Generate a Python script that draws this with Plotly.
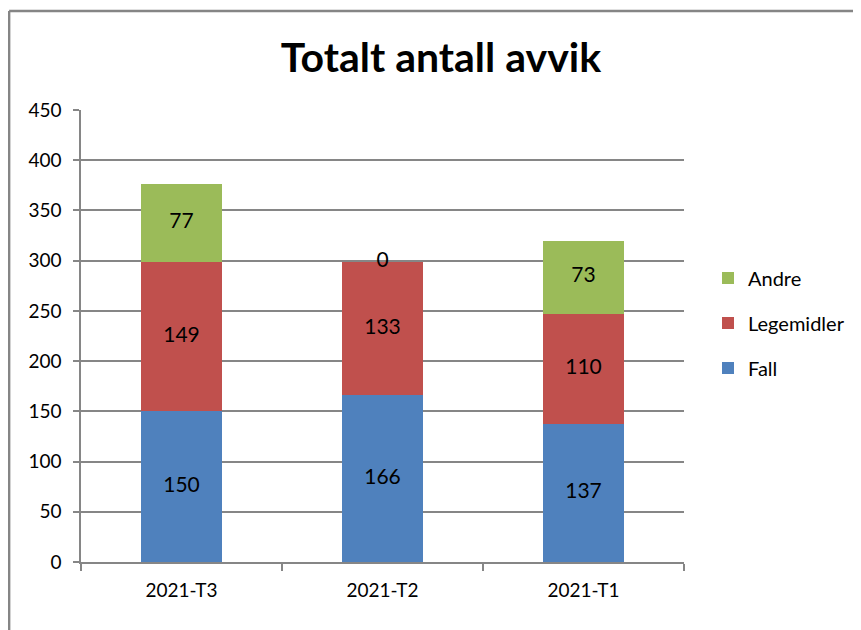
import plotly.graph_objects as go

categories = ["2021-T3", "2021-T2", "2021-T1"]
fall = [150, 166, 137]
legemidler = [149, 133, 110]
andre = [77, 0, 73]
y_ticks = [0, 50, 100, 150, 200, 250, 300, 350, 400, 450]

FONT = "Lato, Calibri, Carlito, sans-serif"
series = [
    ("Fall", fall, "#4F81BD"),
    ("Legemidler", legemidler, "#C0504D"),
    ("Andre", andre, "#9BBB59"),
]

fig = go.Figure()
for i, (name, vals, col) in enumerate(series):
    fig.add_trace(go.Bar(
        x=categories, y=vals, name=name, marker_color=col,
        marker_line_width=0, legendgroup=name, legendrank=1000 - i,
    ))

# data labels at segment centres
base = [0] * len(categories)
lx, ly, lt = [], [], []
for name, vals, col in series:
    for j, v in enumerate(vals):
        lx.append(categories[j])
        ly.append(base[j] + v / 2)
        lt.append(str(v))
        base[j] += v
fig.add_trace(go.Scatter(
    x=lx, y=ly, text=lt, mode="text", showlegend=False,
    textfont=dict(size=21, color="#000000", family=FONT),
    hoverinfo="skip",
))

W, H = 853, 622
L, T, PW, PH = 73, 102, 604, 452
fig.update_layout(
    width=W, height=H,
    barmode="stack", bargap=0.6,
    paper_bgcolor="white", plot_bgcolor="white",
    margin=dict(l=L, r=W - L - PW, t=T, b=H - T - PH, pad=0),
    font=dict(family=FONT, size=18, color="#000000"),
    title=dict(text="<b>Totalt antall avvik</b>", x=433 / W, xref="container", xanchor="center",
               y=1 - 50 / H, yref="container", yanchor="middle",
               font=dict(size=41, family=FONT, color="#000000")),
    legend=dict(traceorder="grouped", x=(700 - L) / PW, xanchor="left",
                y=(T + PH - 315) / PH, yanchor="middle", tracegroupgap=16,
                font=dict(size=20, family=FONT), itemwidth=30,
                bgcolor="rgba(0,0,0,0)"),
    showlegend=True,
)
fig.update_yaxes(
    range=[0, 450], tickvals=y_ticks, showgrid=True, gridcolor="#868686", gridwidth=1.5,
    showline=True, linecolor="#868686", linewidth=1.5,
    ticks="outside", ticklen=6, tickcolor="#868686", tickwidth=1.5,
    ticklabelstandoff=8, zeroline=False,
    tickfont=dict(size=19, family=FONT),
)
fig.update_xaxes(
    showline=True, linecolor="#868686", linewidth=1.5,
    ticks="outside", tickson="boundaries", ticklen=7, tickcolor="#868686", tickwidth=1.5,
    tickfont=dict(size=19, family=FONT), ticklabelstandoff=10,
)

# outer chart frame (top and left edges visible)
x0 = (1 - L) / PW
y0 = (T + PH - 3) / PH
fig.add_shape(type="line", xref="paper", yref="paper", x0=x0, x1=1.4, y0=y0, y1=y0,
              line=dict(color="#858585", width=2.5))
fig.add_shape(type="line", xref="paper", yref="paper", x0=x0, x1=x0, y0=y0, y1=-0.3,
              line=dict(color="#858585", width=2.5))

fig.write_html("out.html")
